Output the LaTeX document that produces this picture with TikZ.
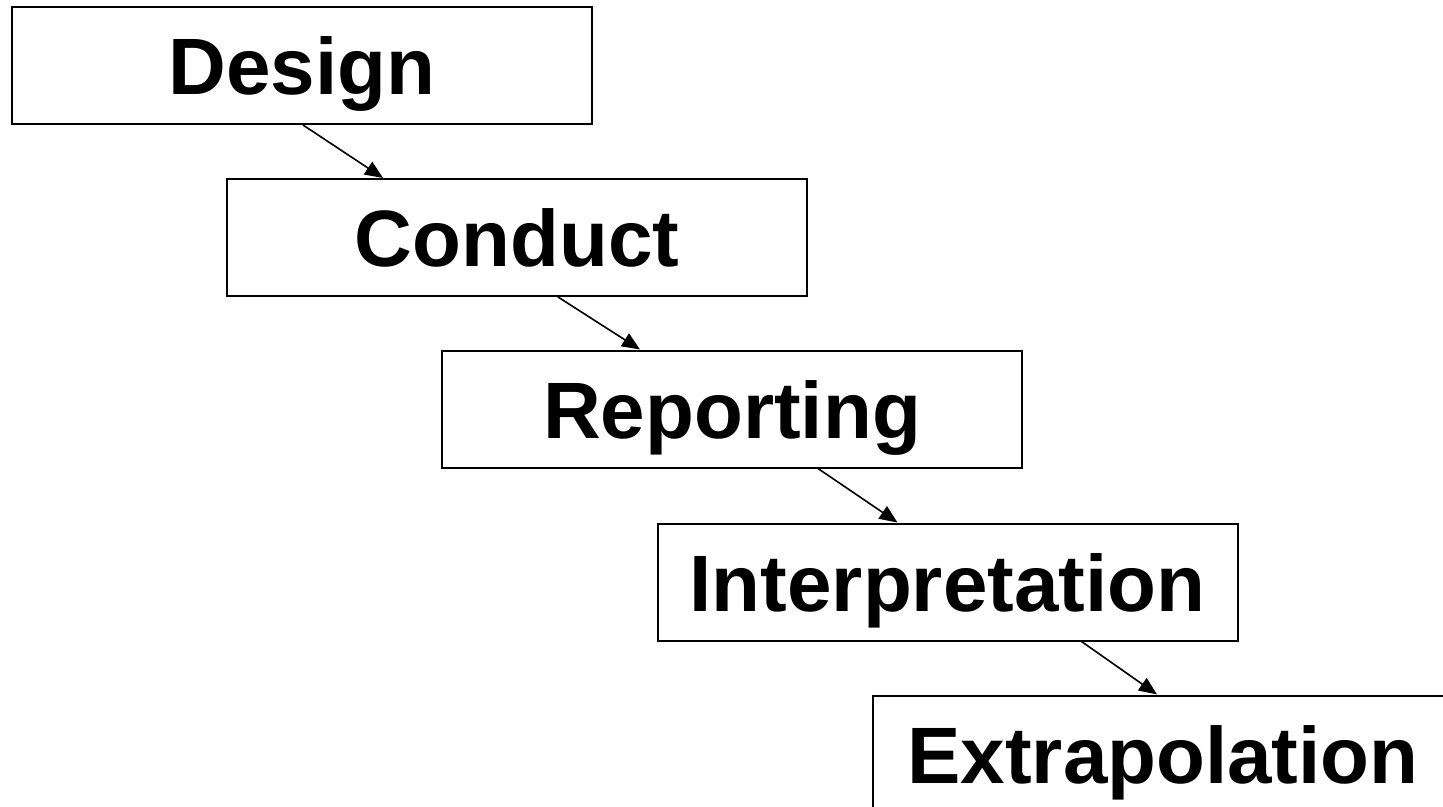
\documentclass[tikz,border=0pt]{standalone}
\usepackage{fontspec}
\setmainfont{Liberation Sans}
\usetikzlibrary{arrows.meta, positioning}
\tikzset{> = { Triangle[length = 9pt, width = 7.5pt] }}
\tikzset{
	stage/.style = {draw, line width = 1pt, minimum width = 290pt, minimum height = 58.5pt, inner sep = 0pt,
		text height = 29pt, text depth = 0pt, font = \fontsize{40}{48}\bfseries\selectfont},
	flow/.style = {->, line width = 0.8pt}
}

\begin{document}
\begin{tikzpicture}[x = 0.5pt, y = -0.5pt]
		\useasboundingbox (0, 0) rectangle (1443, 807);
		\node [stage] (design) at (302, 65.5) {Design};
		\node [stage] (conduct) at (517, 237.5) {Conduct};
		\node [stage] (reporting) at (732, 409) {Reporting};
		\node [stage] (interp) at (947.5, 582) {Interpretation};
		\node [stage] (extrap) at (1163, 754) {Extrapolation};

		\draw [flow] ([xshift = 0.5pt]design.south) -- ([xshift = -67pt]conduct.north);
		\draw [flow] ([xshift = 20.5pt]conduct.south) -- ([xshift = -46pt]reporting.north);
		\draw [flow] ([xshift = 43pt]reporting.south) -- ([xshift = -25pt]interp.north);
		\draw [flow] ([xshift = 67pt]interp.south) -- ([xshift = -3pt]extrap.north);
	\end{tikzpicture}
\end{document}
